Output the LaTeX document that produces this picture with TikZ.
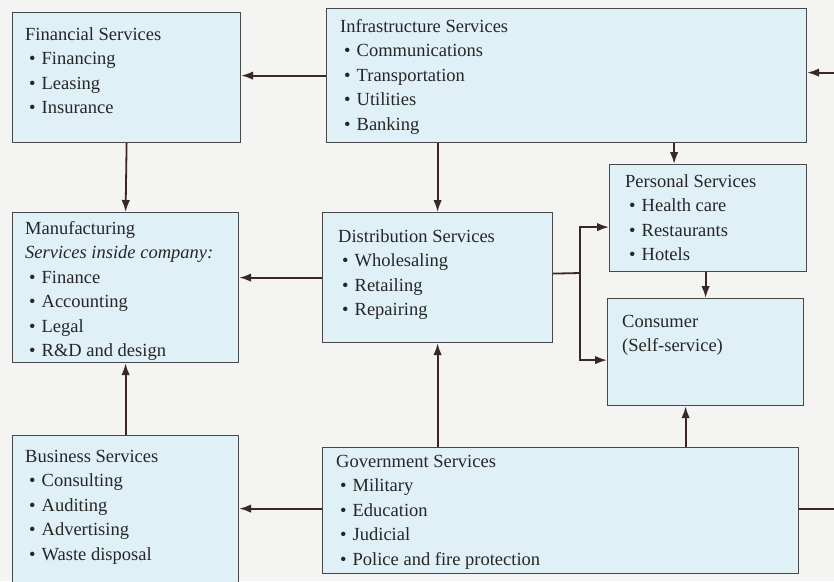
\documentclass[tikz,border=0pt]{standalone}
\usepackage{fontspec}
\setmainfont{Liberation Serif}
\usepackage{tikz}
\usetikzlibrary{positioning}
\usetikzlibrary{arrows.meta}

\definecolor{paper}{RGB}{244,244,243}
\definecolor{boxfill}{RGB}{223,240,246}
\definecolor{boxline}{RGB}{72,72,72}
\definecolor{arrline}{RGB}{58,40,40}

\newcommand{\itm}[1]{\hspace*{4pt}\textbullet\hspace{6pt}#1}

\begin{document}
\begin{tikzpicture}[x=1pt,y=-1pt]
 
 \tikzset{sbox/.style={
 		draw=boxline,
 		fill=boxfill,
 		line width=1.2pt,
 		anchor=north west,
 		inner sep=0pt
 	},
 	txt/.style={
 		anchor=north west,
 		inner sep=0pt,
 		align=left,
 		text=black!85,
 		font=\fontsize{18.5}{24.5}\selectfont
 	},
 	conn/.style={
 		draw=arrline,
 		line width=1.8pt,
 		-{Latex[length=12pt,width=8.5pt]}
 	}
 }
 \fill[paper] (0,0) rectangle (834,581);
 \useasboundingbox (0,0) rectangle (834,581);
 
 % boxes
 \node[sbox, minimum width=228pt, minimum height=130pt] (fin) at (12,12) {};
 \node[sbox, minimum width=480pt, minimum height=134pt] (infra) at (326,8) {};
 \node[sbox, minimum width=226pt, minimum height=150pt] (manu) at (12,212) {};
 \node[sbox, minimum width=230pt, minimum height=130pt] (dist) at (322,212) {};
 \node[sbox, minimum width=197pt, minimum height=107pt] (pers) at (609,164) {};
 \node[sbox, minimum width=196pt, minimum height=107pt] (cons) at (607,298) {};
 \node[sbox, minimum width=226pt, minimum height=160pt] (bus) at (12,435) {};
 \node[sbox, minimum width=476pt, minimum height=126pt] (gov) at (322,447) {};
 
 % texts
 \node[txt, below right=15pt and 13pt of fin.north west] (fin-t)
 	{Financial Services\\ \itm{Financing}\\ \itm{Leasing}\\ \itm{Insurance}};
 \node[txt, below right=11pt and 14pt of infra.north west] (infra-t)
 	{Infrastructure Services\\ \itm{Communications}\\ \itm{Transportation}\\ \itm{Utilities}\\ \itm{Banking}};
 \node[txt, below right=9pt and 13pt of manu.north west] (manu-t)
 	{Manufacturing\\ \textit{Services inside company:}\\ \itm{Finance}\\ \itm{Accounting}\\ \itm{Legal}\\ \itm{R\&D and design}};
 \node[txt, below right=17pt and 16pt of dist.north west] (dist-t)
 	{Distribution Services\\ \itm{Wholesaling}\\ \itm{Retailing}\\ \itm{Repairing}};
 \node[txt, below right=10pt and 16pt of pers.north west] (pers-t)
 	{Personal Services\\ \itm{Health care}\\ \itm{Restaurants}\\ \itm{Hotels}};
 \node[txt, below right=17pt and 15pt of cons.north west] (cons-t)
 	{Consumer\\ (Self-service)};
 \node[txt, below right=15pt and 13pt of bus.north west] (bus-t)
 	{Business Services\\ \itm{Consulting}\\ \itm{Auditing}\\ \itm{Advertising}\\ \itm{Waste disposal}};
 \node[txt, below right=8pt and 14pt of gov.north west] (gov-t)
 	{Government Services\\ \itm{Military}\\ \itm{Education}\\ \itm{Judicial}\\ \itm{Police and fire protection}};
 
 % connectors
 \coordinate (pers-in) at ([xshift=-34pt]pers.north);
 \coordinate (cons-in) at ([xshift=-20pt]cons.south);
 \coordinate (split) at (580,273);
 \coordinate (rt) at (852,0);
 \draw[conn] (infra.west) -- (infra.west -| fin.east);
 \draw[conn] (fin.south) -- (manu.north);
 \draw[conn] (infra.south -| dist.north) -- (dist.north);
 \draw[conn] (infra.south -| pers-in) -- (pers-in);
 \draw[conn] (dist.west) -- (dist.west -| manu.east);
 \draw[conn, -] ([yshift=4pt]dist.east) -- (split);
 \draw[conn] (split) |- ([yshift=-9pt]pers.west);
 \draw[conn] (split) |- ([yshift=-8pt]cons.west);
 \draw[conn] (pers.south -| cons.north) -- (cons.north);
 \draw[conn] (bus.north) -- (manu.south);
 \draw[conn] (gov.north -| dist.south) -- (dist.south);
 \draw[conn] (gov.north -| cons-in) -- (cons-in);
 \draw[conn] ([yshift=2pt]gov.west) -- ([yshift=2pt]gov.west -| bus.east);
 \draw[conn] ([yshift=2pt]gov.east) -- ([yshift=2pt]gov.east -| rt) |- ([yshift=3pt]infra.east);
\end{tikzpicture}
\end{document}
